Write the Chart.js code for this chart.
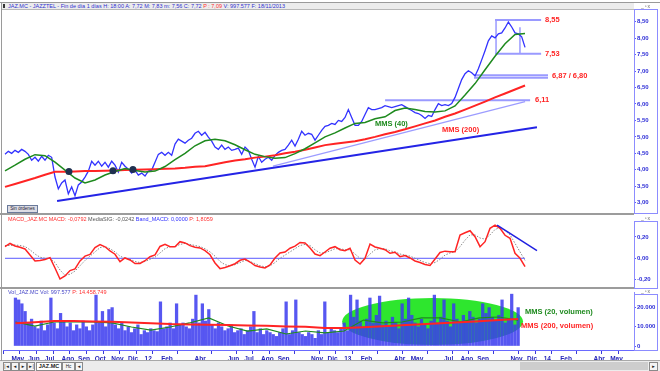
<!DOCTYPE html>
<html lang="es">
<head>
<meta charset="utf-8">
<title>JAZ.MC - JAZZTEL</title>
<script src="https://cdn.jsdelivr.net/npm/chart.js@4.4.1/dist/chart.umd.min.js"></script>
<style>
  html, body { margin: 0; padding: 0; }
  body { width: 660px; height: 371px; position: relative; overflow: hidden; background: #fff; font-family: Arial, "Liberation Sans", sans-serif; }
  .abs { position: absolute; }
  canvas { position: absolute; left: 3px; }
  .hdr { position: absolute; left: 8px; font-size: 5.5px; line-height: 6px; white-space: nowrap; z-index: 5; }
  .axbox { position: absolute; left: 634px; width: 22px; border: 1px solid #8c8cff; z-index: 4; }
  .sep { position: absolute; left: 0; width: 634px; height: 2px; background: #9c9c9c; z-index: 4; }
  .win { position: absolute; left: 641px; font-size: 5px; line-height: 5px; color: #666; letter-spacing: 1px; z-index: 5; }
  .btn { position: absolute; top: 362px; height: 7px; border: 1px solid #8a8a8a; background: #f4f4f4; font-size: 4.5px; line-height: 7px; text-align: center; color: #222; }
</style>
</head>
<body>
<div class="abs" style="left:0;top:2px;width:660px;height:1px;background:#9a9a9a"></div>
<div class="abs" style="left:2px;top:3px;width:632px;height:6px;background:#ececec;border-bottom:1px solid #b8b8b8"></div>
<div class="abs" style="left:1px;top:2px;width:1px;height:359px;background:#9a9a9a;z-index:6"></div>
<div class="abs" style="left:3px;top:4px;width:2px;height:4px;background:#333"></div>
<div class="hdr" style="top:3px;color:#3030d0">JAZ.MC - JAZZTEL - Fin de día 1 días H: 18:00 A: 7,72 M: 7,83 m: 7,56 C: 7,72 <span style="color:#ff3030">P : 7,09</span> V: 997.577 F: 18/11/2013</div>
<div class="win" style="top:4px">_▫x</div>

<canvas id="cPrice" width="654" height="203" style="top:10px"></canvas>
<div class="axbox" style="top:9px;height:203px"></div>
<div class="abs" style="left:7px;top:205px;width:29px;height:6px;border:1px solid #6a7a9a;background:#dcdce4;font-size:4.6px;line-height:6px;text-align:center;color:#223;z-index:5">Sin órdenes</div>

<div class="sep" style="top:213px"></div>
<div class="hdr" style="top:216px"><span style="color:#ff3030">MACD_JAZ.MC MACD: -0,0792</span> <span style="color:#555">MediaSIG: -0,0242</span> <span style="color:#3030ff">Band_MACD: 0,0000</span> <span style="color:#ff3030">P: 1,8059</span></div>
<div class="win" style="top:216px">_▫x</div>
<canvas id="cMacd" width="654" height="67" style="top:221px"></canvas>
<div class="axbox" style="top:221px;height:66px"></div>

<div class="sep" style="top:287px"></div>
<div class="hdr" style="top:289px"><span style="color:#4848c8">Vol_JAZ.MC Vol: 997.577</span> <span style="color:#ff3030">P: 14.458.749</span></div>
<div class="win" style="top:289px">_▫x</div>
<canvas id="cVol" width="654" height="70" style="top:292px"></canvas>
<div class="axbox" style="top:294px;height:55px"></div>

<div class="abs" style="left:0;top:360px;width:660px;height:11px;background:#ececec;border-top:1px solid #a8a8a8"></div>
<div class="btn" style="left:3px;width:6px">|◄</div>
<div class="btn" style="left:11px;width:6px">◄</div>
<div class="btn" style="left:19px;width:6px">►</div>
<div class="btn" style="left:27px;width:6px">►|</div>
<div class="btn" style="left:36px;width:24px;background:#fff;font-weight:bold;font-size:5.5px">JAZ.MC</div>
<div class="btn" style="left:62px;width:11px">Hc</div>
<div class="btn" style="left:75px;width:6px">◄</div>
<div class="abs" style="left:520px;top:362px;width:128px;height:8px;background:#cdcdcd"></div>
<div class="btn" style="left:649px;width:7px">►</div>

<script>
// x axis unit: months since 1 May 2011
const monthTicks  = [0, 1, 2, 3, 4, 5, 6, 7, 8, 9, 11, 13, 14, 15, 16, 18, 19, 20, 21, 23, 24, 26, 27, 28, 30, 31, 32, 33, 35, 36];
const monthLabels = ['May', 'Jun', 'Jul', 'Ago', 'Sep', 'Oct', 'Nov', 'Dic', '12', 'Feb', 'Abr', 'Jun', 'Jul', 'Ago', 'Sep', 'Nov',
                     'Dic', '13', 'Feb', 'Abr', 'May', 'Jul', 'Ago', 'Sep', 'Nov', 'Dic', '14', 'Feb', 'Abr', 'May'];
const priceTicks = [3, 3.5, 4, 4.5, 5, 5.5, 6, 6.5, 7, 7.5, 8, 8.5];
const macdTicks  = [-0.2, 0, 0.2];
const volTicks   = [0, 10000, 20000];

// close, one reading every ~4 sessions
const price = [
  4.47, 4.56, 4.50, 4.59, 4.53, 4.62, 4.56, 4.47, 4.29, 4.38,
  4.26, 4.41, 4.29, 4.44, 4.38, 3.78, 3.42, 3.60, 3.69, 3.27,
  3.48, 3.21, 3.54, 3.63, 3.78, 3.96, 4.26, 4.14, 4.26, 4.11,
  4.23, 4.08, 4.26, 4.14, 3.93, 4.23, 4.11, 4.02, 3.90, 3.99,
  3.84, 3.90, 3.81, 3.96, 3.99, 4.23, 4.47, 4.53, 4.44, 4.53,
  4.44, 4.78, 4.93,
  4.87, 4.81, 4.90, 4.96, 5.11, 5.17, 5.05, 5.14, 4.99, 4.87,
  4.69, 4.62, 4.75, 4.62, 4.69, 4.59, 4.62, 4.66, 4.47, 4.69,
  4.59, 4.32, 4.08, 4.41, 4.23, 4.32, 4.38, 4.29, 4.44, 4.53,
  4.59, 4.62, 4.75, 4.90, 4.72, 4.93, 5.17, 5.05, 5.11, 5.08,
  4.90, 5.05, 5.20, 5.32, 5.35, 5.41, 5.38, 5.50, 5.47, 5.59,
  5.83, 5.59, 5.35, 5.35,
  5.47, 5.68, 5.89, 5.83, 5.83, 5.86, 5.89, 5.95, 5.92, 5.89,
  5.92, 5.95, 5.98, 5.92, 5.86, 5.80, 5.74, 5.71, 5.65, 5.56,
  5.65, 5.62, 5.83, 6.01, 5.95, 5.98, 5.95, 6.01, 6.20, 6.47,
  6.74, 6.92, 7.01, 6.95, 6.85, 7.07, 7.34, 7.62, 7.92, 8.07,
  8.01, 8.13, 8.16, 8.31, 8.49, 8.34, 8.16, 8.13, 8.04, 7.72
];
const mms40 = [
  3.97, 4.14, 4.32, 4.46, 4.43, 4.23, 3.99, 3.75, 3.60, 3.69,
  3.84, 3.95, 4.04, 3.98, 3.93, 3.96, 4.10, 4.31, 4.50, 4.73,
  4.88, 4.93, 4.88, 4.76, 4.61, 4.47, 4.40, 4.35, 4.37, 4.49,
  4.64, 4.82, 5.00, 5.12, 5.27, 5.41, 5.44, 5.55, 5.61, 5.80,
  5.88, 5.83, 5.77, 5.76, 5.79, 5.94, 6.27, 6.62, 7.04, 7.45,
  7.83, 8.11, 8.14
];
const mms200 = [
  3.48, 3.57, 3.66, 3.75, 3.85, 3.94, 3.94, 3.95, 3.96, 3.96,
  3.97, 3.98, 3.99, 4.00, 4.01, 4.02, 4.03, 4.04, 4.06, 4.09,
  4.11, 4.17, 4.23, 4.28, 4.32, 4.37, 4.40, 4.44, 4.50, 4.55,
  4.61, 4.68, 4.75, 4.79, 4.83, 4.87, 4.93, 5.00, 5.08, 5.15,
  5.23, 5.32, 5.41, 5.50, 5.61, 5.71, 5.83, 5.95, 6.07, 6.20,
  6.32, 6.44, 6.56
];
const crossM = [3.95, 6.51, 7.67];
const crossV = [3.95, 3.97, 4.01];

// drawn lines and levels
const trendM = [3.26, 31.16],  trendV = [3.05, 5.29];
const supportM = [15.81, 30.47], supportV = [4.11, 6.07];
const levelV    = [8.55, 7.53, 6.87, 6.80, 6.11];
const levelFrom = [28.72, 28.72, 27.50, 27.50, 22.33];
const levelTo   = [31.40, 31.40, 31.80, 31.80, 30.76];
const rangeM = [28.78, 30.17], rangeTop = [8.55, 8.33], rangeLow = 7.53;

const macd = [
  0.109, 0.139, 0.115, 0.103, 0.087, 0.031, -0.025, -0.021, -0.011, 0.006,
  -0.091, -0.194, -0.166, -0.115, -0.100, -0.025, 0.020, 0.036, 0.101, 0.129,
  0.108, 0.069, 0.038, -0.032, 0.003, -0.016, -0.049, -0.049, -0.023, 0.015,
  0.031, 0.111, 0.132, 0.108, 0.109, 0.156, 0.144, 0.119, 0.104, 0.097,
  0.072, 0.033, -0.044, -0.097, -0.087, -0.070, -0.051, -0.019, -0.007, -0.035,
  -0.068, -0.082, -0.091, -0.063, 0.003, 0.050, 0.059, 0.094, 0.114, 0.148,
  0.144, 0.097, 0.040, 0.024, 0.059, 0.094, 0.109, 0.080, 0.071, 0.094,
  -0.016, -0.054, 0.000, 0.134, 0.106, 0.094, 0.081, 0.047, 0.057, 0.015,
  0.026, 0.003, -0.025, -0.039, -0.058, -0.068, -0.007, 0.054, 0.067, 0.062,
  0.062, 0.219, 0.240, 0.259, 0.203, 0.109, 0.156, 0.282, 0.312, 0.282,
  0.216, 0.188, 0.047, 0.000, -0.079
];
const signal = [
  0.12, 0.12, 0.125, 0.12, 0.11, 0.08, 0.04, 0.01, 0.00, 0.00,
  -0.04, -0.11, -0.16, -0.15, -0.12, -0.07, -0.02, 0.02, 0.06, 0.10,
  0.11, 0.09, 0.06, 0.02, 0.00, -0.01, -0.03, -0.04, -0.03, -0.01,
  0.01, 0.05, 0.09, 0.11, 0.11, 0.13, 0.14, 0.13, 0.12, 0.11,
  0.09, 0.06, 0.02, -0.03, -0.06, -0.07, -0.06, -0.04, -0.02, -0.03,
  -0.05, -0.07, -0.08, -0.07, -0.04, 0.00, 0.03, 0.06, 0.09, 0.12,
  0.13, 0.12, 0.08, 0.05, 0.05, 0.07, 0.09, 0.09, 0.08, 0.08,
  0.04, 0.00, -0.01, 0.04, 0.08, 0.09, 0.09, 0.07, 0.06, 0.04,
  0.03, 0.02, 0.00, -0.02, -0.04, -0.05, -0.04, -0.01, 0.03, 0.05,
  0.06, 0.11, 0.17, 0.22, 0.22, 0.19, 0.18, 0.22, 0.27, 0.29,
  0.26, 0.22, 0.14, 0.06, -0.02
];
const macdTrendM = [28.84, 31.16], macdTrendV = [0.312, 0.071];

// volume in thousands of shares
const volume = [
  25000, 24000, 22000, 18000, 12000, 14000, 10000, 9000, 13000, 8000,
  11000, 25000, 12000, 9000, 17000, 13000, 10000, 12000, 8000, 11000,
  9000, 13000, 10000, 8000, 11000, 26500, 12000, 18000, 10000, 19000,
  20000, 11000, 9000, 12000, 8000, 10000, 7000, 9000, 11000, 6000,
  8000, 7000, 9000, 8000, 7500, 23000, 9000, 10000, 12000, 9000,
  22000, 11000, 12000, 10000, 9000, 14000, 26500, 12000, 22000, 13000,
  19000, 11000, 9000, 12000, 10000, 8000, 9000, 11000, 7000, 8000,
  9000, 6000, 8000, 10000, 18000, 7000, 9000, 6000, 8000, 7000,
  6000, 5000, 7000, 9000, 23000, 6000, 8000, 24000, 7000, 6000,
  5000, 7000, 6000, 4000, 8000, 6000, 23000, 7000, 9000, 8000,
  7000, 9000, 12000, 8000, 26500, 15000, 24000, 13000, 10000, 14000,
  25000, 12000, 16000, 26000, 11000, 13000, 10000, 15000, 12000, 9000,
  22000, 14000, 25000, 16000, 12000, 10000, 14000, 11000, 9000, 13000,
  26500, 12000, 15000, 24000, 13000, 10000, 22000, 14000, 12000, 16000,
  13000, 18000, 15000, 12000, 14000, 22000, 17000, 20000, 15000, 13000,
  16000, 24000, 12000, 14000, 27000, 11000, 20000
];
const volMms20 = [12500, 10400, 12500, 12500, 12500, 12000, 9900, 8300, 9900, 12000, 14600, 10400, 7800, 8900,
                  6250, 7800, 6800, 7800, 13500, 12000, 12500, 14600, 14600, 12500, 14600, 15100, 13500];
const volMms200 = [11800, 12400, 13000, 13000, 12800, 12600, 12300, 11900, 11400, 11200, 11100, 10900, 10700, 10500,
                   10200, 10000, 9400, 9400, 9800, 10300, 10800, 11300, 11800, 12400, 12900, 13500, 14000];

// sampling of the readings (months)
const T0 = 0.2326, STEP_PRICE = 0.1938, STEP_MACD = 0.2907, STEP_MA = 0.5814, STEP_VMA = 1.1628;
const M_MIN = 0.1163, M_MAX = 36.8;

const RED = '#ff2424', GREEN = '#1e8a1e', FONT = 'Arial, "Liberation Sans", sans-serif';

const at = (vals, step) => vals.map((v, i) => ({ x: T0 + i * step, y: v }));
const pair = (xs, ys) => xs.map((x, i) => ({ x: x, y: ys[i] }));
const comma = v => v.toFixed(2).replace('.', ',');
const thousands = v => String(v).replace(/\B(?=(\d{3})+(?!\d))/g, '.');

function line(data, color, width, order, extra) {
    return Object.assign({ type: 'line', data: data, borderColor: color, backgroundColor: color, borderWidth: width,
        pointRadius: 0, tension: 0, fill: false, order: order }, extra || {});
}

function xScale(show) {
    const s = {
        type: 'linear', min: M_MIN, max: M_MAX, display: show,
        afterBuildTicks: sc => { sc.ticks = monthTicks.map(v => ({ value: v })); },
        grid: { drawOnChartArea: false, drawTicks: true, tickLength: 4, color: '#3a3ad8' },
        border: { display: true, color: '#6a6aff' },
        ticks: { autoSkip: false, maxRotation: 0, align: 'start', padding: 1, color: '#2424b8',
                 font: { family: FONT, size: 6.5, weight: 'bold' },
                 callback: v => monthLabels[monthTicks.indexOf(v)] }
    };
    if (show) s.afterFit = sc => { sc.height = 12; sc.paddingLeft = 0; sc.paddingRight = 0; };
    return s;
}

function yScale(min, max, ticks, fmt) {
    return {
        position: 'right', min: min, max: max,
        afterFit: s => { s.width = 23; s.paddingTop = 0; s.paddingBottom = 0; },
        afterBuildTicks: s => { s.ticks = ticks.map(v => ({ value: v })); },
        grid: { drawOnChartArea: false, drawTicks: true, tickLength: 2, color: '#5a5aff' },
        border: { display: true, color: '#8c8cff' },
        ticks: { padding: 1, color: '#2b2bd6', font: { family: FONT, size: 6, weight: 'bold' }, callback: fmt }
    };
}

// text notes placed in data coordinates
const notesPlugin = {
    id: 'notes',
    afterDatasetsDraw(chart, args, opts) {
        const { ctx, scales: { x, y } } = chart;
        ctx.save();
        ctx.font = 'bold 7.5px ' + FONT;
        ctx.textAlign = 'left';
        ctx.textBaseline = 'middle';
        (opts.items || []).forEach(n => {
            ctx.fillStyle = n.color;
            ctx.fillText(n.text, x.getPixelForValue(n.x), y.getPixelForValue(n.y));
        });
        ctx.restore();
    }
};

const ellipsePlugin = {
    id: 'ellipse',
    beforeDatasetsDraw(chart, args, opts) {
        if (!opts.color) return;
        const { ctx, scales: { x, y } } = chart;
        const cx = x.getPixelForValue(opts.x), cy = y.getPixelForValue(opts.y);
        const rx = x.getPixelForValue(opts.x + opts.rx) - cx;
        const ry = cy - y.getPixelForValue(opts.y + opts.ry);
        ctx.save();
        ctx.fillStyle = opts.color;
        ctx.beginPath();
        ctx.ellipse(cx, cy, rx, ry, 0, 0, Math.PI * 2);
        ctx.fill();
        ctx.restore();
    }
};

Chart.register(notesPlugin, ellipsePlugin);

const base = {
    responsive: false,
    animation: false,
    events: [],
    layout: { padding: 0, autoPadding: false }
};

document.addEventListener('DOMContentLoaded', function() {
    // price panel
    const priceSets = [];
    levelV.forEach((v, i) => {
        priceSets.push(line([{ x: levelFrom[i], y: v }, { x: levelTo[i], y: v }], '#9a9aff', 2, 7));
    });
    rangeM.forEach((m, i) => {
        priceSets.push(line([{ x: m, y: rangeTop[i] }, { x: m, y: rangeLow }], '#9a9aff', 1.5, 7));
    });
    priceSets.push(line(pair(supportM, supportV), '#9c9cff', 1.2, 6));
    priceSets.push(line(pair(trendM, trendV), '#2424e6', 2, 5));
    priceSets.push(line(at(price, STEP_PRICE), '#3232ff', 1.3, 4));
    priceSets.push(line(at(mms200, STEP_MA), RED, 2, 3));
    priceSets.push(line(at(mms40, STEP_MA), GREEN, 1.5, 2));
    priceSets.push(line(pair(crossM, crossV), '#1f3050', 0, 1, { showLine: false, pointRadius: 3.5, pointBorderWidth: 0 }));

    new Chart(document.getElementById('cPrice'), {
        type: 'line',
        data: { datasets: priceSets },
        options: Object.assign({}, base, {
            scales: { x: xScale(false), y: yScale(2.687, 8.856, priceTicks, comma) },
            plugins: {
                legend: { display: false }, tooltip: { enabled: false },
                notes: { items: [
                    { x: 31.63, y: 8.55, text: '8,55', color: RED },
                    { x: 31.63, y: 7.53, text: '7,53', color: RED },
                    { x: 32.03, y: 6.84, text: '6,87 / 6,80', color: RED },
                    { x: 31.05, y: 6.11, text: '6,11', color: RED },
                    { x: 21.74, y: 5.38, text: 'MMS (40)', color: GREEN },
                    { x: 25.64, y: 5.20, text: 'MMS (200)', color: RED }
                ] }
            }
        })
    });

    // MACD panel
    new Chart(document.getElementById('cMacd'), {
        type: 'line',
        data: { datasets: [
            line(pair(macdTrendM, macdTrendV), '#2020e0', 1.5, 0),
            line(at(macd, STEP_MACD), RED, 1.5, 1),
            line(at(signal, STEP_MACD), '#8a8a8a', 1, 2, { borderDash: [1.5, 1.5] }),
            line([{ x: T0, y: 0 }, { x: T0 + (macd.length - 1) * STEP_MACD, y: 0 }], '#5a5aff', 1, 3)
        ] },
        options: Object.assign({}, base, {
            scales: { x: xScale(false), y: yScale(-0.279, 0.350, macdTicks, comma) },
            plugins: { legend: { display: false }, tooltip: { enabled: false } }
        })
    });

    // volume panel
    new Chart(document.getElementById('cVol'), {
        type: 'bar',
        data: { datasets: [
            { type: 'bar', data: at(volume, STEP_PRICE), backgroundColor: 'rgba(58,58,238,0.85)', barThickness: 2.6, order: 3 },
            line(at(volMms20, STEP_VMA), GREEN, 1.2, 2),
            line(at(volMms200, STEP_VMA), RED, 2, 1)
        ] },
        options: Object.assign({}, base, {
            scales: { x: xScale(true), y: yScale(-2083, 28125, volTicks, thousands) },
            plugins: {
                legend: { display: false }, tooltip: { enabled: false },
                ellipse: { x: 25.32, rx: 5.44, y: 12760, ry: 12240, color: '#2ee62e' },
                notes: { items: [
                    { x: 30.87, y: 17700, text: 'MMS (20, volumen)', color: GREEN },
                    { x: 30.64, y: 10400, text: 'MMS (200, volumen)', color: RED }
                ] }
            }
        })
    });
});
</script>
</body>
</html>
